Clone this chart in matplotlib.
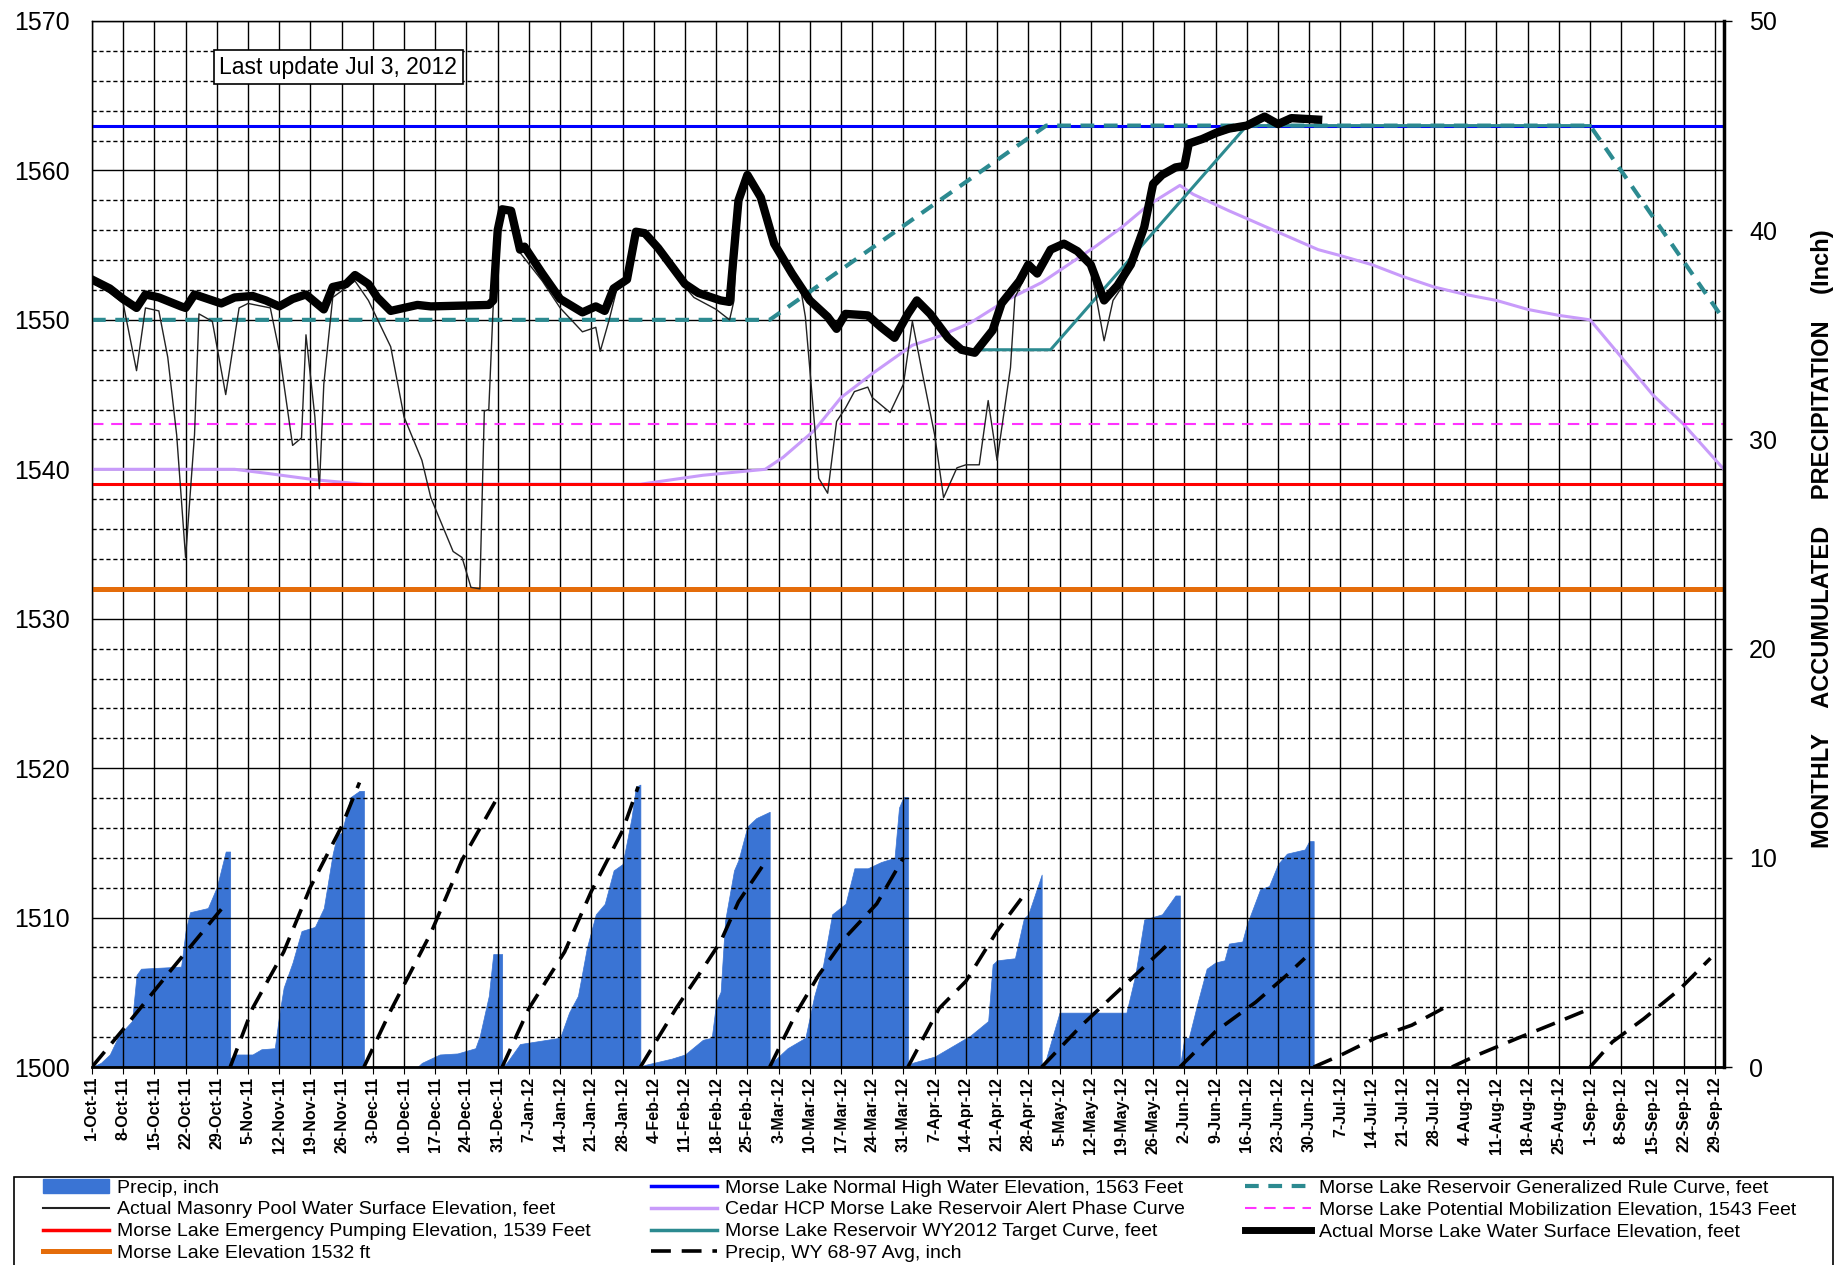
import matplotlib
matplotlib.use("Agg")
import matplotlib.pyplot as plt
from matplotlib.lines import Line2D
from matplotlib.patches import Patch, Rectangle
from datetime import date, timedelta

plt.rcParams['font.family'] = ['Liberation Sans', 'DejaVu Sans']

# day 0 = 1-Oct-2011 (water year 2012)
start = date(2011, 10, 1)

# Actual Morse Lake water surface elevation (thick black)
lake_day = [0, 4, 7, 10, 12, 15, 20, 21, 23, 27, 29, 32, 36, 39, 42, 45, 48, 50, 52, 54,
            57, 59, 62, 64, 67, 70, 73, 76, 89, 90, 91, 92, 94, 96, 97, 101, 105, 110, 113,
            115, 117, 120, 122, 124, 127, 130, 133, 136, 141, 143, 145, 147, 150, 153, 157,
            159, 161, 165, 167, 169, 174, 177, 180, 183, 185, 188, 192, 195, 198, 202, 204,
            208, 210, 212, 215, 218, 221, 224, 227, 230, 233, 236, 238, 240, 243, 245, 246,
            249, 252, 255, 259, 263, 266, 269, 275]
lake_ft = [1552.7, 1552.1, 1551.4, 1550.8, 1551.7, 1551.5, 1550.9, 1550.8, 1551.7, 1551.3,
           1551.1, 1551.5, 1551.6, 1551.3, 1550.9, 1551.4, 1551.7, 1551.2, 1550.7, 1552.2,
           1552.4, 1553.0, 1552.4, 1551.5, 1550.6, 1550.8, 1551.0, 1550.9, 1551.0, 1551.3,
           1556.0, 1557.4, 1557.3, 1554.7, 1554.9, 1553.1, 1551.4, 1550.5, 1550.9, 1550.6,
           1552.1, 1552.7, 1555.9, 1555.8, 1554.8, 1553.6, 1552.4, 1551.8, 1551.3, 1551.2,
           1558.0, 1559.7, 1558.2, 1555.1, 1553.1, 1552.2, 1551.3, 1550.2, 1549.4, 1550.4,
           1550.3, 1549.5, 1548.8, 1550.4, 1551.3, 1550.4, 1548.8, 1548.0, 1547.8, 1549.3,
           1551.1, 1552.6, 1553.7, 1553.1, 1554.7, 1555.1, 1554.6, 1553.7, 1551.3, 1552.3,
           1553.7, 1556.2, 1559.1, 1559.7, 1560.2, 1560.3, 1561.8, 1562.1, 1562.5, 1562.8,
           1563.0, 1563.6, 1563.1, 1563.5, 1563.4]

# Actual Masonry Pool water surface elevation (thin black)
pool_day = [0, 4, 7, 10, 12, 15, 17, 19, 21, 23, 24, 27, 30, 33, 35, 40, 42, 45, 47, 48, 50,
            51, 52, 54, 59, 62, 67, 70, 74, 76, 81, 83, 85, 87, 88, 89, 90, 91, 92, 94, 96,
            101, 105, 110, 113, 114, 116, 118, 120, 122, 124, 127, 130, 133, 135, 140, 143,
            144, 145, 147, 150, 153, 157, 159, 160, 162, 163, 165, 167, 169, 171, 174, 175,
            179, 182, 184, 186, 189, 191, 194, 196, 199, 201, 203, 206, 207, 210, 212, 215,
            218, 221, 224, 225, 227, 229, 231, 233, 236, 238, 240, 243, 245, 246, 249, 252,
            255, 259, 263, 266, 269, 275]
pool_ft = [1552.5, 1551.8, 1551.1, 1546.6, 1550.8, 1550.6, 1547.5, 1542.3, 1534.1, 1542.3,
           1550.4, 1549.9, 1545.0, 1550.8, 1551.1, 1550.8, 1547.9, 1541.6, 1542.1, 1549.0,
           1543.5, 1538.7, 1545.7, 1551.5, 1552.6, 1551.3, 1548.2, 1543.5, 1540.6, 1538.1,
           1534.5, 1534.1, 1532.1, 1532.0, 1543.9, 1544.0, 1551.0, 1555.8, 1557.2, 1557.1,
           1554.5, 1552.6, 1550.8, 1549.2, 1549.5, 1547.9, 1550.0, 1552.4, 1552.6, 1555.7,
           1555.6, 1554.6, 1553.4, 1552.2, 1551.5, 1550.7, 1550.0, 1551.3, 1557.8, 1559.5,
           1558.0, 1554.9, 1552.9, 1552.0, 1550.2, 1543.2, 1539.4, 1538.4, 1543.2, 1544.1,
           1545.2, 1545.5, 1544.8, 1543.8, 1545.7, 1549.9, 1546.8, 1542.3, 1538.1, 1540.1,
           1540.3, 1540.3, 1544.6, 1540.6, 1546.8, 1551.5, 1553.3, 1552.9, 1554.5, 1554.9,
           1554.4, 1553.5, 1551.9, 1548.6, 1551.3, 1552.2, 1553.5, 1556.0, 1558.9, 1559.5,
           1560.0, 1560.1, 1561.6, 1561.9, 1562.3, 1562.6, 1562.8, 1563.4, 1562.9, 1563.3,
           1563.2]

# Generalized rule curve (teal dashed) and WY2012 target curve (teal solid)
rule_day = [0, 152, 214, 336, 366]
rule_ft = [1550, 1550, 1563, 1563, 1550]
target_day = [197, 215, 259, 336]
target_ft = [1548, 1548, 1563, 1563]

# Cedar HCP alert phase curve (lavender)
alert_day = [0, 32, 40, 50, 61, 123, 137, 151, 155, 162, 168, 175, 184, 190, 197, 205, 213,
             219, 225, 231, 237, 244, 247, 255, 265, 275, 280, 287, 294, 301, 308, 315, 322,
             329, 336, 343, 350, 357, 366]
alert_ft = [1540.0, 1540.0, 1539.7, 1539.3, 1539.0, 1539.0, 1539.6, 1540.0, 1540.8, 1542.6,
            1544.8, 1546.4, 1548.3, 1548.9, 1549.8, 1551.3, 1552.5, 1553.7, 1554.9, 1556.2,
            1557.7, 1559.0, 1558.4, 1557.3, 1556.0, 1554.7, 1554.3, 1553.7, 1552.9, 1552.2,
            1551.7, 1551.3, 1550.7, 1550.3, 1550.0, 1547.5, 1545.0, 1543.0, 1540.0]

# Monthly accumulated precipitation, inch (one list per month)
precip_day = [
    [0, 2, 4, 6, 9, 10, 11, 20, 21, 22, 26, 28, 30, 31],
    [31, 32, 36, 38, 41, 42, 43, 45, 47, 50, 52, 54, 55, 56, 58, 60, 61],
    [61, 73, 74, 78, 82, 86, 87, 89, 90, 92],
    [92, 93, 96, 105, 107, 109, 111, 113, 115, 117, 119, 121, 122, 123],
    [123, 124, 126, 130, 133, 137, 139, 140, 141, 142, 144, 145, 147, 149, 152],
    [152, 153, 156, 160, 162, 164, 166, 169, 171, 174, 177, 180, 181, 182, 183],
    [183, 184, 189, 193, 197, 201, 202, 203, 207, 209, 210, 213],
    [213, 214, 217, 222, 232, 234, 236, 240, 243, 244],
    [244, 245, 246, 248, 250, 252, 254, 255, 258, 259, 262, 264, 266, 268, 272, 273, 274],
]
precip_in = [
    [0, 0.2, 0.6, 1.5, 2.2, 4.4, 4.7, 4.8, 6.5, 7.4, 7.6, 8.6, 10.3, 10.3],
    [0.4, 0.6, 0.6, 0.85, 0.9, 2.5, 3.8, 5.0, 6.5, 6.7, 7.6, 10.2, 11.1, 11.2, 12.9, 13.2, 13.2],
    [0, 0, 0.2, 0.6, 0.65, 0.9, 1.5, 3.4, 5.4, 5.4],
    [0, 0.2, 1.1, 1.4, 2.6, 3.4, 5.7, 7.3, 7.8, 9.4, 9.7, 11.9, 13.4, 13.5],
    [0, 0.1, 0.2, 0.4, 0.6, 1.3, 1.4, 3.1, 3.6, 7.0, 9.4, 9.9, 11.5, 11.9, 12.2],
    [0, 0.3, 0.9, 1.4, 3.4, 4.9, 7.3, 7.8, 9.5, 9.5, 9.8, 10.0, 12.4, 12.9, 12.9],
    [0, 0.2, 0.5, 1.0, 1.5, 2.2, 4.9, 5.1, 5.2, 7.1, 7.3, 9.2],
    [0, 0.4, 2.6, 2.6, 2.6, 4.4, 7.05, 7.3, 8.2, 8.2],
    [0, 1.4, 1.4, 3.1, 4.7, 5.0, 5.1, 5.9, 6.0, 6.8, 8.5, 8.65, 9.7, 10.2, 10.4, 10.8, 10.8],
]

# Precip, WY 68-97 average (black dashed), one list per month
avg_day = [
    [0, 7, 18, 30],
    [31, 36, 43, 49, 56, 60],
    [61, 67, 76, 83, 91],
    [92, 98, 106, 112, 119, 122.5],
    [123, 131, 137, 141, 145, 151],
    [152, 158, 163, 169, 176, 182],
    [183, 190, 196, 203, 210],
    [213, 222, 230, 241],
    [244, 252, 261, 268, 272],
    [274, 280, 288, 296, 303],
    [305, 311, 320, 327, 335],
    [336, 341, 348, 356, 363],
]
avg_in = [
    [0, 1.8, 4.7, 7.8],
    [0, 2.8, 5.5, 8.6, 11.5, 13.6],
    [0, 2.7, 6.4, 9.9, 12.9],
    [0, 2.8, 5.5, 8.4, 11.3, 13.4],
    [0, 2.8, 4.7, 6.0, 7.9, 9.8],
    [0, 2.6, 4.4, 6.2, 7.8, 10.0],
    [0, 2.8, 4.1, 6.5, 8.5],
    [0, 2.0, 3.6, 5.8],
    [0, 1.7, 3.1, 4.4, 5.2],
    [0, 0.56, 1.4, 2.0, 2.8],
    [0, 0.6, 1.4, 2.0, 2.7],
    [0, 1.2, 2.3, 3.7, 5.2],
]

# weekly tick labels
tick_day = list(range(0, 365, 7))
tick_lab = []
for d in tick_day:
    t = start + timedelta(days=d)
    tick_lab.append(f"{t.day}-{t:%b-%y}")

BLUE_FILL = '#3A74D4'
TEAL = '#2C8A90'
LAV = '#C89BFA'
ORANGE = '#E46C0A'
MAGENTA = '#FF33FF'

fig = plt.figure(figsize=(18.39, 12.65), dpi=100)
ax = fig.add_axes([0.0500, 0.1565, 0.8874, 0.8269])
ax2 = ax.twinx()
ax.set_zorder(ax2.get_zorder() + 1)
ax.patch.set_visible(False)

# precipitation on the right axis (drawn underneath)
for d, v in zip(precip_day, precip_in):
    ax2.fill_between(d, 0, v, color=BLUE_FILL, lw=0.5, edgecolor=BLUE_FILL)
for d, v in zip(avg_day, avg_in):
    ax2.plot(d, v, color='black', lw=2.6, dashes=(5.5, 3))
ax2.set_ylim(0, 50)
ax2.set_yticks(range(0, 51, 10))
ax2.tick_params(axis='y', labelsize=18, length=6, pad=12, direction='out', width=1)

# elevation lines on the left axis
ax.plot(alert_day, alert_ft, color=LAV, lw=2.2)
ax.axhline(1532, color=ORANGE, lw=3.6)
ax.axhline(1539, color='red', lw=2.2)
ax.axhline(1543, color=MAGENTA, lw=1.5, dashes=(5.5, 3.7))
ax.axhline(1563, color='blue', lw=2.2)
ax.plot(rule_day, rule_ft, color=TEAL, lw=3, dashes=(3.3, 2.3))
ax.plot(target_day, target_ft, color=TEAL, lw=2.2)
ax.plot(pool_day, pool_ft, color='#222222', lw=1.0)
ax.plot(lake_day, lake_ft, color='black', lw=6, solid_joinstyle='round')

ax.set_xlim(0, 366)
ax.set_ylim(1500, 1570)
ax.set_xticks(tick_day)
ax.set_xticklabels(tick_lab, rotation=90, fontsize=11.5, fontweight='bold')
ax.set_yticks(range(1500, 1571, 10))
ax.set_yticks(range(1500, 1571, 2), minor=True)
ax.xaxis.grid(True, color='black', lw=1.0)
ax.yaxis.grid(True, which='major', color='black', lw=1.0)
ax.yaxis.grid(True, which='minor', color='black', lw=1.0, linestyle=(0, (3, 2)))
ax.tick_params(axis='y', which='both', length=0, pad=16, labelsize=18)
ax.tick_params(axis='x', length=5, pad=2, direction='out')
for s in ['left', 'top']:
    ax.spines[s].set_linewidth(1.0)
ax.spines['right'].set_linewidth(2.5)
ax.spines['bottom'].set_linewidth(2.0)

ax.text(0.151, 0.956, 'Last update Jul 3, 2012', transform=ax.transAxes, ha='center',
        va='center', fontsize=16.5, zorder=10,
        bbox=dict(boxstyle='square,pad=0.25', fc='white', ec='black', lw=1.2))

fig.text(0.9908, 0.574, 'MONTHLY    ACCUMULATED    PRECIPITATION    (Inch)', rotation=90,
         ha='center', va='center', fontsize=17, fontweight='bold')

handles = [
    Patch(fc=BLUE_FILL, ec=BLUE_FILL),
    Line2D([], [], color='#222222', lw=1.5),
    Line2D([], [], color='red', lw=2.5),
    Line2D([], [], color=ORANGE, lw=3.6),
    Line2D([], [], color='blue', lw=2.5),
    Line2D([], [], color=LAV, lw=2.5),
    Line2D([], [], color=TEAL, lw=2.5),
    Line2D([], [], color='black', lw=2.6, dashes=(5.5, 3)),
    Line2D([], [], color=TEAL, lw=3, dashes=(3.3, 2.3)),
    Line2D([], [], color=MAGENTA, lw=1.5, dashes=(5.5, 3.7)),
    Line2D([], [], color='black', lw=5),
]
labels = [
    'Precip, inch',
    'Actual Masonry Pool Water Surface Elevation, feet',
    'Morse Lake Emergency Pumping Elevation, 1539 Feet',
    'Morse Lake Elevation 1532 ft',
    'Morse Lake Normal High Water Elevation, 1563 Feet',
    'Cedar HCP Morse Lake Reservoir Alert Phase Curve',
    'Morse Lake Reservoir WY2012 Target Curve, feet',
    'Precip, WY 68-97 Avg, inch',
    'Morse Lake Reservoir Generalized Rule Curve, feet',
    'Morse Lake Potential Mobilization Elevation, 1543 Feet',
    'Actual Morse Lake Water Surface Elevation, feet',
]
fig.legend(handles, labels, loc='upper left', ncol=3, mode='expand',
           bbox_to_anchor=(41 / 1839, 1 - 1177 / 1265, (1798 - 41) / 1839, 0),
           fontsize=14, frameon=False, handlelength=3.4, handletextpad=0.4,
           borderaxespad=0, labelspacing=0.22, borderpad=0.1)
# legend box
fig.add_artist(Rectangle((14 / 1839, -0.01), 1819 / 1839, (1265 - 1177) / 1265 + 0.01,
                         transform=fig.transFigure, fill=False, ec='black', lw=1.2))

fig.savefig('out.png', dpi=100)
